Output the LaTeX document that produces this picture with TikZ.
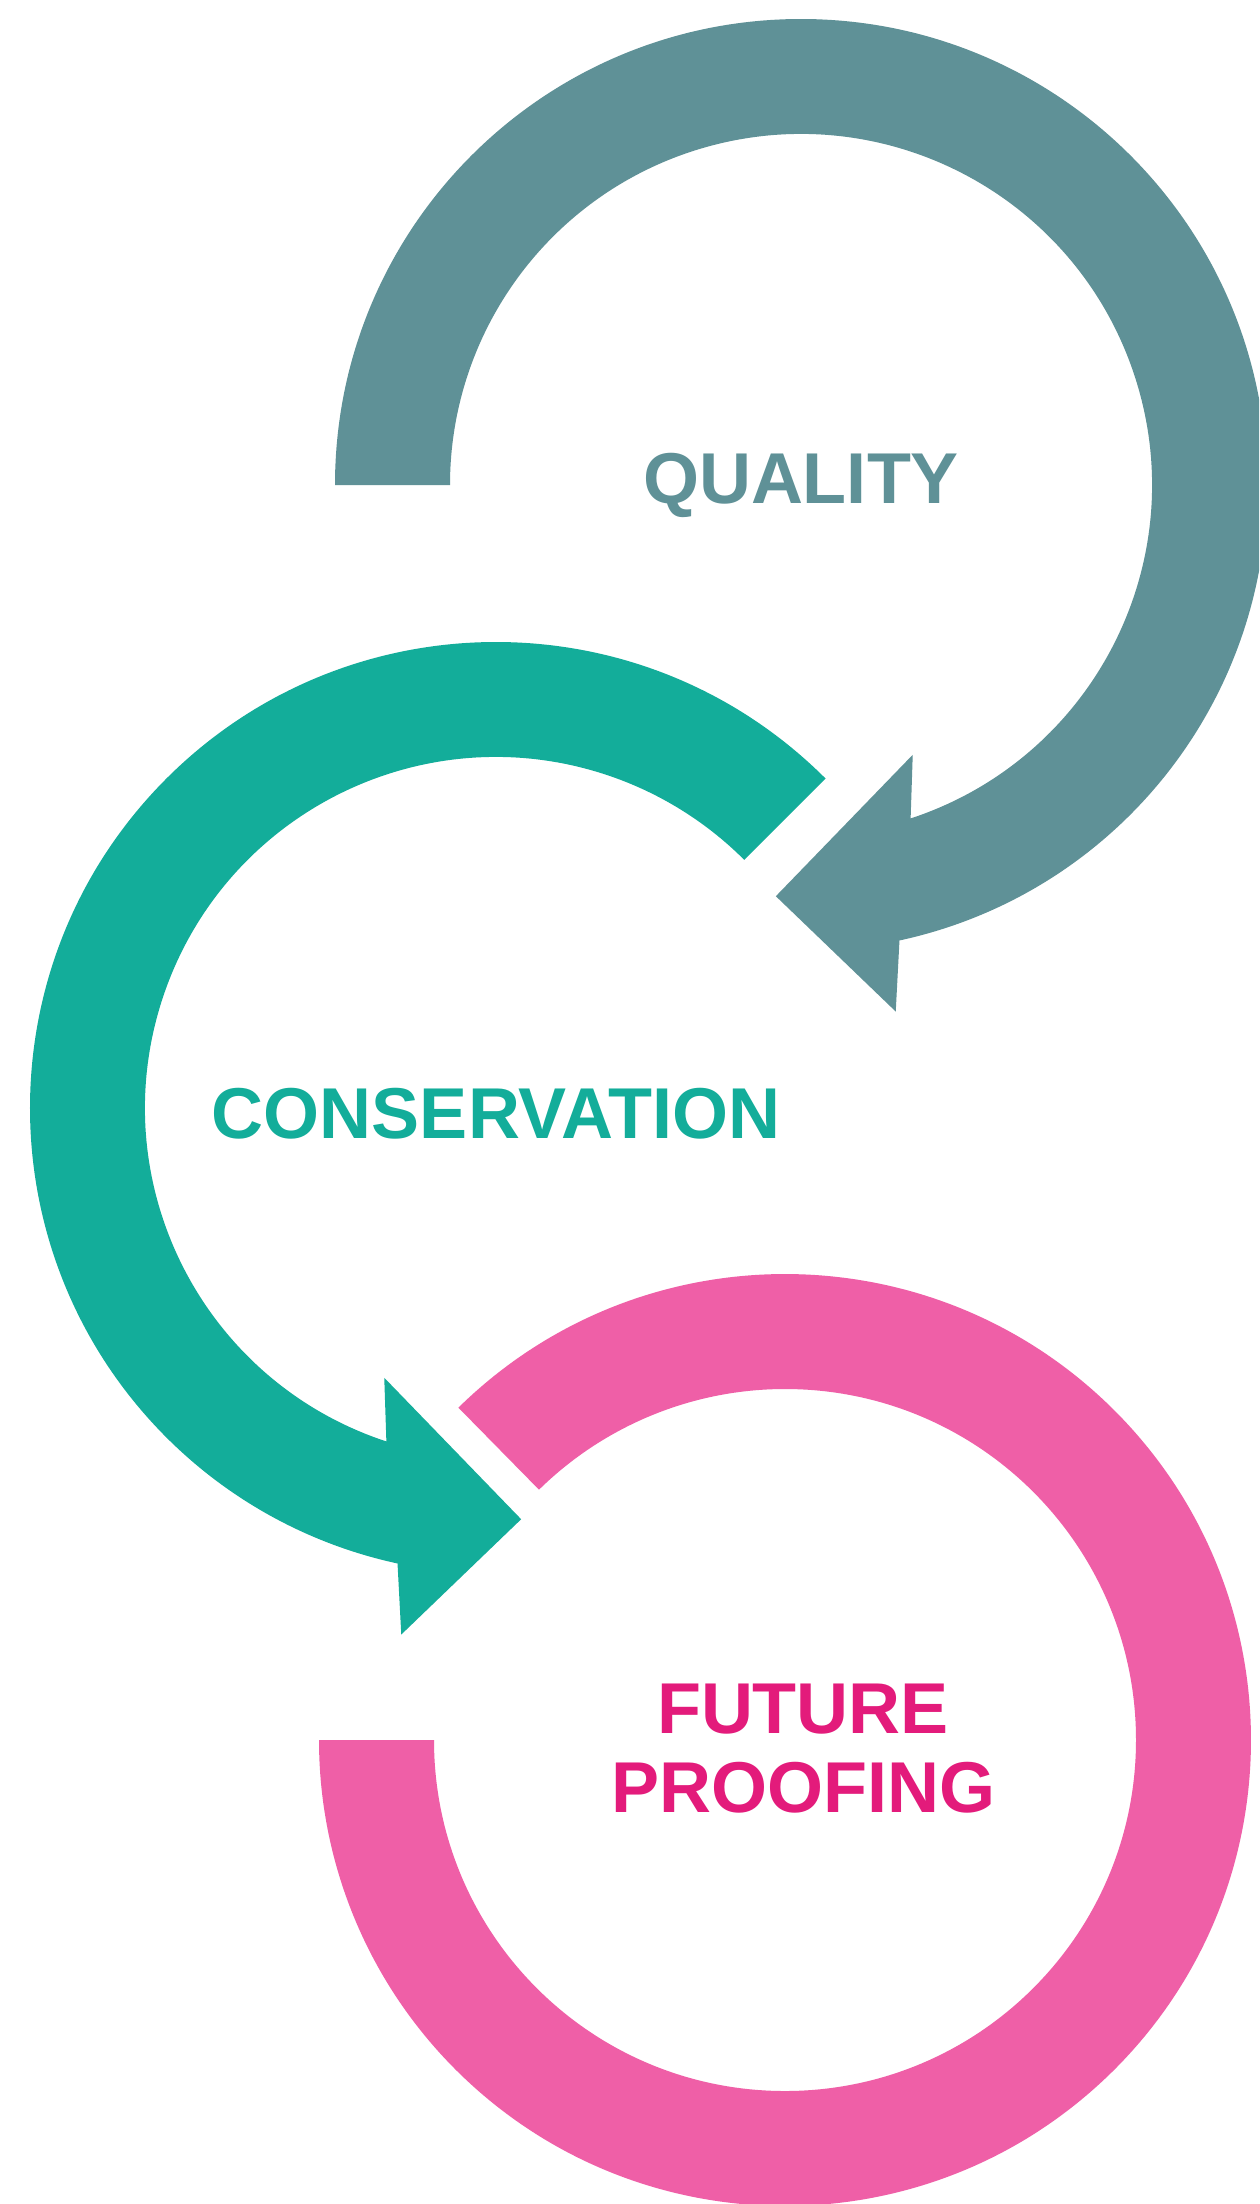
\documentclass[tikz,border=0pt]{standalone}
\usepackage{fontspec}
\setmainfont{Liberation Sans}
\definecolor{qualcol}{HTML}{5F9197}
\definecolor{conscol}{HTML}{13AD9A}
\definecolor{pinkarc}{HTML}{EF5FA7}
\definecolor{pinktext}{HTML}{E31B7B}
\begin{document}
\begin{tikzpicture}[x=1pt,y=1pt,
  lbl/.style={font=\fontsize{72}{79}\selectfont\bfseries, inner sep=0pt, anchor=base}]
\useasboundingbox (0,0) rectangle (1259,-2204);
\clip (0,0) rectangle (1259,-2204);
\fill[white] (0,0) rectangle (1259,-2204);

% QUALITY ring (clockwise, arrow at bottom)
\fill[qualcol, shift={(801,-485)}]
  (180:466pt) arc[start angle=180, end angle=-77.8, radius=466pt]
  -- (-79.8:535pt) -- (-93.5:412pt) -- (-67.5:292pt) -- (-71.8:351pt)
  arc[start angle=-71.8, end angle=180, radius=351pt] -- cycle;

% CONSERVATION ring (counter-clockwise, arrow at bottom)
\fill[conscol, shift={(496,-1108)}]
  (45:466pt) arc[start angle=45, end angle=257.8, radius=466pt]
  -- (259.8:535pt) -- (273.5:412pt) -- (247.5:292pt) -- (251.8:351pt)
  arc[start angle=251.8, end angle=45, radius=351pt] -- cycle;

% FUTURE PROOFING ring
\fill[pinkarc, shift={(785,-1740)}]
  (134.5:466pt) arc[start angle=134.5, end angle=-180, radius=466pt]
  -- (180:351pt) arc[start angle=-180, end angle=134.5, radius=351pt] -- cycle;

\node[lbl, text=qualcol] (quality) at (801,-503) {QUALITY};
\node[lbl, text=conscol] (conservation) at (496,-1138) {CONSERVATION};
\node[lbl, text=pinktext] (future) at (803,-1733) {FUTURE};
\node[lbl, text=pinktext] (proofing) at (803,-1812) {PROOFING};
\end{tikzpicture}
\end{document}
